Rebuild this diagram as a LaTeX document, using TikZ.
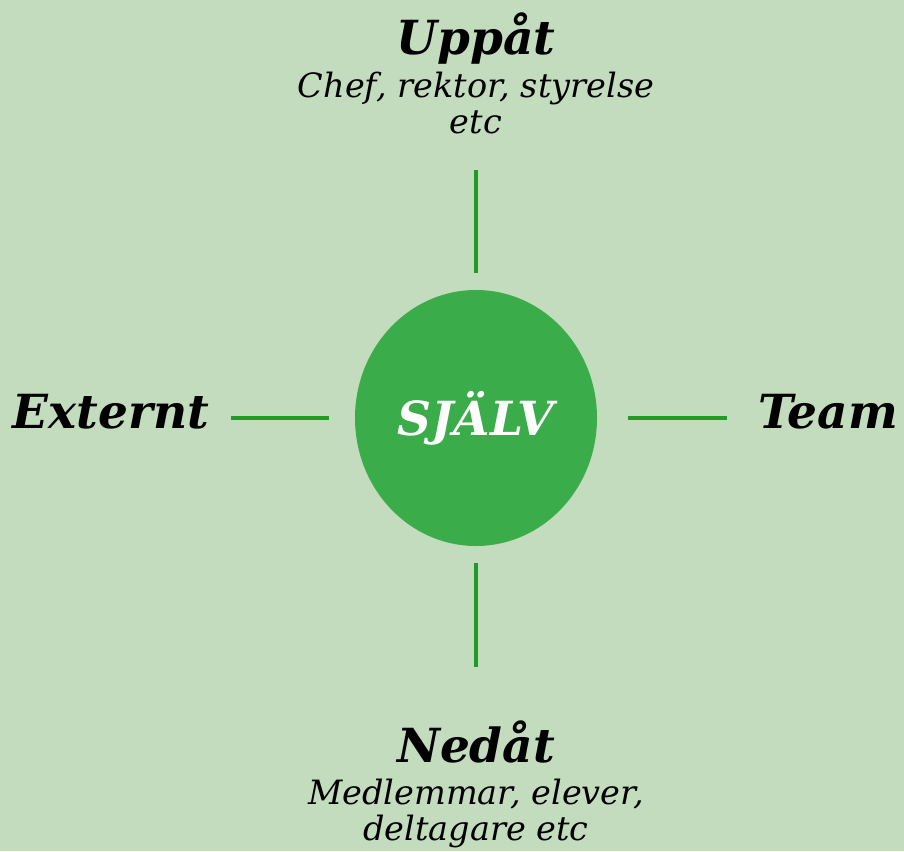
\documentclass[tikz,border=0pt]{standalone}
\usepackage{fontspec}
\setmainfont{DejaVu Serif}
\usetikzlibrary{shapes.geometric}
\definecolor{bgpale}{HTML}{C4DCBE}
\definecolor{selfgreen}{HTML}{3AAC4A}
\definecolor{spokegreen}{HTML}{229A26}
\tikzset{
  heading/.style={font=\fontsize{47}{50}\selectfont\bfseries\itshape, inner sep=0pt, text=black},
  subline/.style={font=\fontsize{33.5}{36}\selectfont\itshape, inner sep=0pt, align=center, text=black},
  spoke/.style={draw=spokegreen, line width=4pt},
}
\begin{document}
\begin{tikzpicture}[x=1pt,y=-1pt]
  \fill[bgpale] (0,0) rectangle (904,851);
  \useasboundingbox (0,0) rectangle (904,851);

  % centre circle
  \node[ellipse, fill=selfgreen, minimum width=242pt, minimum height=256pt, inner sep=0pt,
        text=white, font=\fontsize{47}{50}\selectfont\bfseries\itshape] (self) at (476,418) {SJÄLV};

  % four directions (multi-line nodes sit on the baseline of their last line)
  \node[heading, anchor=base] (up) at (476,55) {Uppåt};
  \node[subline, anchor=base] (upsub) at (476,133) {Chef, rektor, styrelse\\etc};
  \node[heading, anchor=base] (down) at (476,762) {Nedåt};
  \node[subline, anchor=base] (downsub) at (476,840) {Medlemmar, elever,\\deltagare etc};
  \node[heading, anchor=base] (left) at (111,428) {Externt};
  \node[heading, anchor=base] (right) at (828,428) {Team};

  % spoke end points
  \coordinate (u1) at (476,170); \coordinate (u2) at (476,273);
  \coordinate (d1) at (476,563); \coordinate (d2) at (476,667);
  \coordinate (l1) at (231,418); \coordinate (l2) at (329,418);
  \coordinate (r1) at (628,418); \coordinate (r2) at (727,418);

  \draw[spoke] (u1) -- (u2);
  \draw[spoke] (d1) -- (d2);
  \draw[spoke] (l1) -- (l2);
  \draw[spoke] (r1) -- (r2);
\end{tikzpicture}
\end{document}
